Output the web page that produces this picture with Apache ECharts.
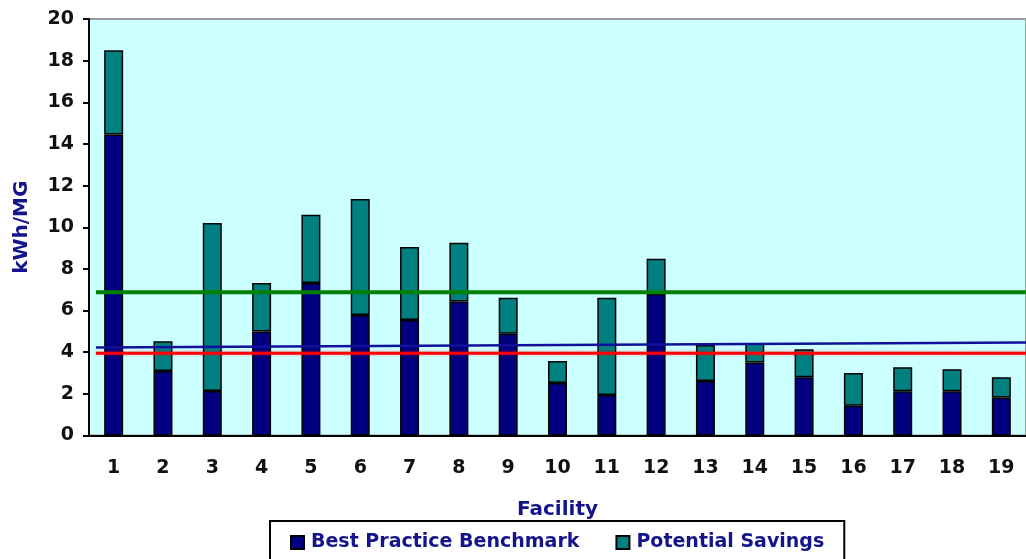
<!DOCTYPE html>
<html>
<head>
<meta charset="utf-8">
<script src="https://cdn.jsdelivr.net/npm/echarts@6/dist/echarts.min.js"></script>
<style>
  html, body { margin: 0; padding: 0; background: #fff; overflow: hidden; }
  #chart { width: 1026px; height: 559px; }
</style>
</head>
<body>
<div id="chart"></div>
<script>
// facilities on the x axis
const facilities = ["1", "2", "3", "4", "5", "6", "7", "8", "9", "10", "11", "12", "13", "14", "15", "16", "17", "18", "19"];

// kWh/MG
const benchmark = [14.45, 3.1, 2.14, 5.0, 7.32, 5.79, 5.55, 6.43, 4.88, 2.52, 1.95, 6.79, 2.62, 3.5, 2.8, 1.43, 2.12, 2.12, 1.82];
const savings = [4.05, 1.43, 8.06, 2.32, 3.28, 5.57, 3.5, 2.82, 1.74, 1.06, 4.67, 1.7, 1.73, 0.93, 1.34, 1.57, 1.16, 1.06, 0.98];

// reference lines: [facility position, kWh/MG]
const greenLine = [[0.64, 6.88], [19.5, 6.88]];
const redLine = [[0.64, 3.95], [19.5, 3.95]];
const blueLine = [[0.64, 4.23], [19.5, 4.46]];

const yTicks = { min: 0, max: 20, interval: 2 };

const navyText = "#14148c";
const font = "DejaVu Sans";

const chart = echarts.init(document.getElementById("chart"));

const option = {
  animation: false,
  textStyle: { fontFamily: font },
  grid: {
    left: 89,
    top: 19,
    right: -13,
    bottom: 123.5,
    show: true,
    backgroundColor: "#ccffff",
    borderColor: "#9a9a9a",
    borderWidth: 2,
  },
  legend: {
    data: ["Best Practice Benchmark", "Potential Savings"],
    left: 270,
    top: 521,
    icon: "rect",
    itemWidth: 13,
    itemHeight: 13,
    itemGap: 36,
    padding: [12, 20, 30, 20],
    borderColor: "#000",
    borderWidth: 2,
    backgroundColor: "#fff",
    textStyle: { color: navyText, fontWeight: "bold", fontSize: 19, fontFamily: font, padding: [0, 0, 0, 2] },
  },
  xAxis: [
    {
      type: "category",
      data: facilities,
      name: "Facility",
      nameLocation: "middle",
      nameGap: 64,
      nameTextStyle: { color: navyText, fontWeight: "bold", fontSize: 20, fontFamily: font },
      axisLine: { lineStyle: { color: "#000", width: 2 } },
      axisTick: { length: 7, lineStyle: { color: "#000", width: 2 } },
      axisLabel: { color: "#111", fontWeight: "bold", fontSize: 19, margin: 23, fontFamily: font },
    },
    {
      type: "value",
      min: 0.5,
      max: 19.5,
      show: false,
    },
  ],
  yAxis: {
    type: "value",
    min: yTicks.min,
    max: yTicks.max,
    interval: yTicks.interval,
    name: "kWh/MG",
    nameLocation: "middle",
    nameRotate: 90,
    nameGap: 57,
    nameTextStyle: { color: navyText, fontWeight: "bold", fontSize: 20, fontFamily: font },
    axisLine: { show: true, lineStyle: { color: "#000", width: 2 } },
    axisTick: { show: true, length: 6, lineStyle: { color: "#000", width: 2 } },
    axisLabel: { color: "#111", fontWeight: "bold", fontSize: 19, margin: 15, fontFamily: font },
    splitLine: { show: false },
  },
  series: [
    {
      name: "Best Practice Benchmark",
      type: "bar",
      stack: "total",
      barWidth: 19,
      data: benchmark,
      itemStyle: { color: "#000080", borderColor: "#000", borderWidth: 1.5 },
    },
    {
      name: "Potential Savings",
      type: "bar",
      stack: "total",
      barWidth: 19,
      data: savings,
      itemStyle: { color: "#008080", borderColor: "#000", borderWidth: 1.5 },
    },
    {
      name: "green",
      type: "line",
      xAxisIndex: 1,
      data: greenLine,
      symbol: "none",
      lineStyle: { color: "#008000", width: 4 },
      z: 5,
    },
    {
      name: "blue",
      type: "line",
      xAxisIndex: 1,
      data: blueLine,
      symbol: "none",
      lineStyle: { color: "#10109a", width: 2.5 },
      z: 5,
    },
    {
      name: "red",
      type: "line",
      xAxisIndex: 1,
      data: redLine,
      symbol: "none",
      lineStyle: { color: "#ff0000", width: 3, shadowColor: "rgba(255,0,0,0.4)", shadowBlur: 3 },
      z: 5,
    },
  ],
};

chart.setOption(option);
</script>
</body>
</html>
